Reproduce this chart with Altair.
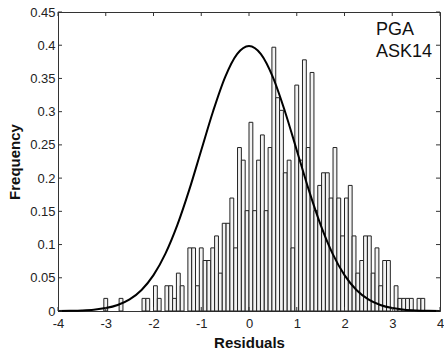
import altair as alt
import pandas as pd

# ---- data ----
bin_centers = [-3.00, -2.68, -2.20, -2.12, -1.96, -1.88, -1.72, -1.64, -1.56, -1.48,
               -1.40, -1.24, -1.16, -1.08, -1.00, -0.92, -0.84, -0.76, -0.68, -0.60,
               -0.52, -0.44, -0.36, -0.28, -0.20, -0.12, -0.04, 0.04, 0.12, 0.20,
               0.28, 0.36, 0.44, 0.52, 0.60, 0.68, 0.76, 0.84, 0.92, 1.00,
               1.08, 1.16, 1.24, 1.32, 1.40, 1.48, 1.56, 1.64, 1.72, 1.80,
               1.88, 1.96, 2.04, 2.12, 2.20, 2.28, 2.36, 2.44, 2.52, 2.60,
               2.68, 2.76, 2.84, 2.92, 3.08, 3.16, 3.24, 3.32, 3.40, 3.56, 3.64]
frequency = [0.019, 0.019, 0.019, 0.019, 0.038, 0.019, 0.038, 0.038, 0.019, 0.057,
             0.038, 0.095, 0.095, 0.038, 0.095, 0.076, 0.076, 0.095, 0.113, 0.057,
             0.132, 0.132, 0.170, 0.095, 0.246, 0.227, 0.151, 0.284, 0.151, 0.227,
             0.265, 0.151, 0.246, 0.397, 0.321, 0.302, 0.208, 0.227, 0.095, 0.340,
             0.227, 0.378, 0.246, 0.359, 0.151, 0.189, 0.208, 0.208, 0.170, 0.246,
             0.170, 0.113, 0.170, 0.189, 0.113, 0.057, 0.076, 0.113, 0.113, 0.057,
             0.095, 0.038, 0.076, 0.076, 0.038, 0.019, 0.019, 0.019, 0.019, 0.019, 0.019]
BIN_WIDTH = 0.08

curve_x = [-4.0, -3.75, -3.5, -3.25, -3.0, -2.75, -2.5, -2.25, -2.0, -1.75, -1.5, -1.25,
           -1.0, -0.75, -0.5, -0.25, 0.0, 0.25, 0.5, 0.75, 1.0, 1.25, 1.5, 1.75,
           2.0, 2.25, 2.5, 2.75, 3.0, 3.25, 3.5, 3.75, 4.0]
curve_y = [0.0001, 0.0004, 0.0009, 0.002, 0.0044, 0.0091, 0.0175, 0.0317, 0.054, 0.0863,
           0.1295, 0.1826, 0.242, 0.3011, 0.3521, 0.3867, 0.3989, 0.3867, 0.3521, 0.3011,
           0.242, 0.1826, 0.1295, 0.0863, 0.054, 0.0317, 0.0175, 0.0091, 0.0044, 0.002,
           0.0009, 0.0004, 0.0001]

x_ticks = [-4, -3, -2, -1, 0, 1, 2, 3, 4]
y_ticks = [0, 0.05, 0.1, 0.15, 0.2, 0.25, 0.3, 0.35, 0.4, 0.45]
annotation = ["PGA", "ASK14"]

# ---- tables ----
bars_df = pd.DataFrame({"center": bin_centers, "freq": frequency})
bars_df["x0"] = bars_df["center"] - BIN_WIDTH / 2
bars_df["x1"] = bars_df["center"] + BIN_WIDTH / 2
bars_df["zero"] = 0.0
curve_df = pd.DataFrame({"x": curve_x, "y": curve_y})
xt_df = pd.DataFrame({"v": x_ticks})
yt_df = pd.DataFrame({"v": y_ticks})

W, H = 382, 299
FONT = "Liberation Sans, Arial, Helvetica, sans-serif"
AX = "#333333"
xs = alt.Scale(domain=[-4, 4], nice=False, zero=False)
ys = alt.Scale(domain=[0, 0.45], nice=False)

x_axis = alt.Axis(values=x_ticks, title="Residuals", labelExpr="'' + datum.value",
                  ticks=False, grid=False, labelPadding=6, labelFontSize=13,
                  titleFontSize=15, titleFontWeight="bold", titleBaseline="alphabetic",
                  titleY=36, domainColor=AX, labelColor="#222", titleColor="#111",
                  labelFont=FONT, titleFont=FONT, labelFlush=False)
y_axis = alt.Axis(values=y_ticks, title="Frequency", labelExpr="'' + datum.value",
                  ticks=False, grid=False, labelPadding=3, labelFontSize=13,
                  titleFontSize=15, titleFontWeight="bold", titleBaseline="alphabetic",
                  titleX=-39, titleY=H / 2, titleAngle=270, domainColor=AX,
                  labelColor="#222", titleColor="#111", labelFont=FONT, titleFont=FONT,
                  labelFlush=False)

bars = alt.Chart(bars_df).mark_rect(fill="#f3f3f3", stroke="#222", strokeWidth=1).encode(
    x=alt.X("x0:Q", scale=xs, axis=x_axis),
    x2="x1:Q",
    y=alt.Y("freq:Q", scale=ys, axis=y_axis),
    y2="zero:Q",
)

curve = alt.Chart(curve_df).mark_line(color="black", strokeWidth=2, interpolate="monotone").encode(
    x=alt.X("x:Q", scale=xs, axis=x_axis),
    y=alt.Y("y:Q", scale=ys, axis=y_axis),
)

TL = 4
bottom_ticks = alt.Chart(xt_df).mark_rule(color=AX).encode(
    x=alt.X("v:Q", scale=xs, axis=x_axis), y=alt.value(H), y2=alt.value(H - TL))
top_ticks = alt.Chart(xt_df).mark_rule(color=AX).encode(
    x=alt.X("v:Q", scale=xs, axis=x_axis), y=alt.value(0), y2=alt.value(TL))
left_ticks = alt.Chart(yt_df).mark_rule(color=AX).encode(
    y=alt.Y("v:Q", scale=ys, axis=y_axis), x=alt.value(0), x2=alt.value(TL))
right_ticks = alt.Chart(yt_df).mark_rule(color=AX).encode(
    y=alt.Y("v:Q", scale=ys, axis=y_axis), x=alt.value(W), x2=alt.value(W - TL))

label = alt.Chart(pd.DataFrame({"a": [0]})).mark_text(
    text=annotation, align="left", baseline="top", fontSize=18,
    lineHeight=22, font=FONT, color="#111").encode(x=alt.value(318), y=alt.value(9))

chart = alt.layer(bars, curve, bottom_ticks, top_ticks, left_ticks, right_ticks, label).properties(
    width=W, height=H,
    autosize=alt.AutoSizeParams(type="none"),
    padding={"left": 58, "top": 12, "right": 4, "bottom": 44},
    background="white",
).configure_view(stroke=AX, strokeWidth=1)

chart.save("out.html", embed_options={"renderer": "svg", "actions": False})
